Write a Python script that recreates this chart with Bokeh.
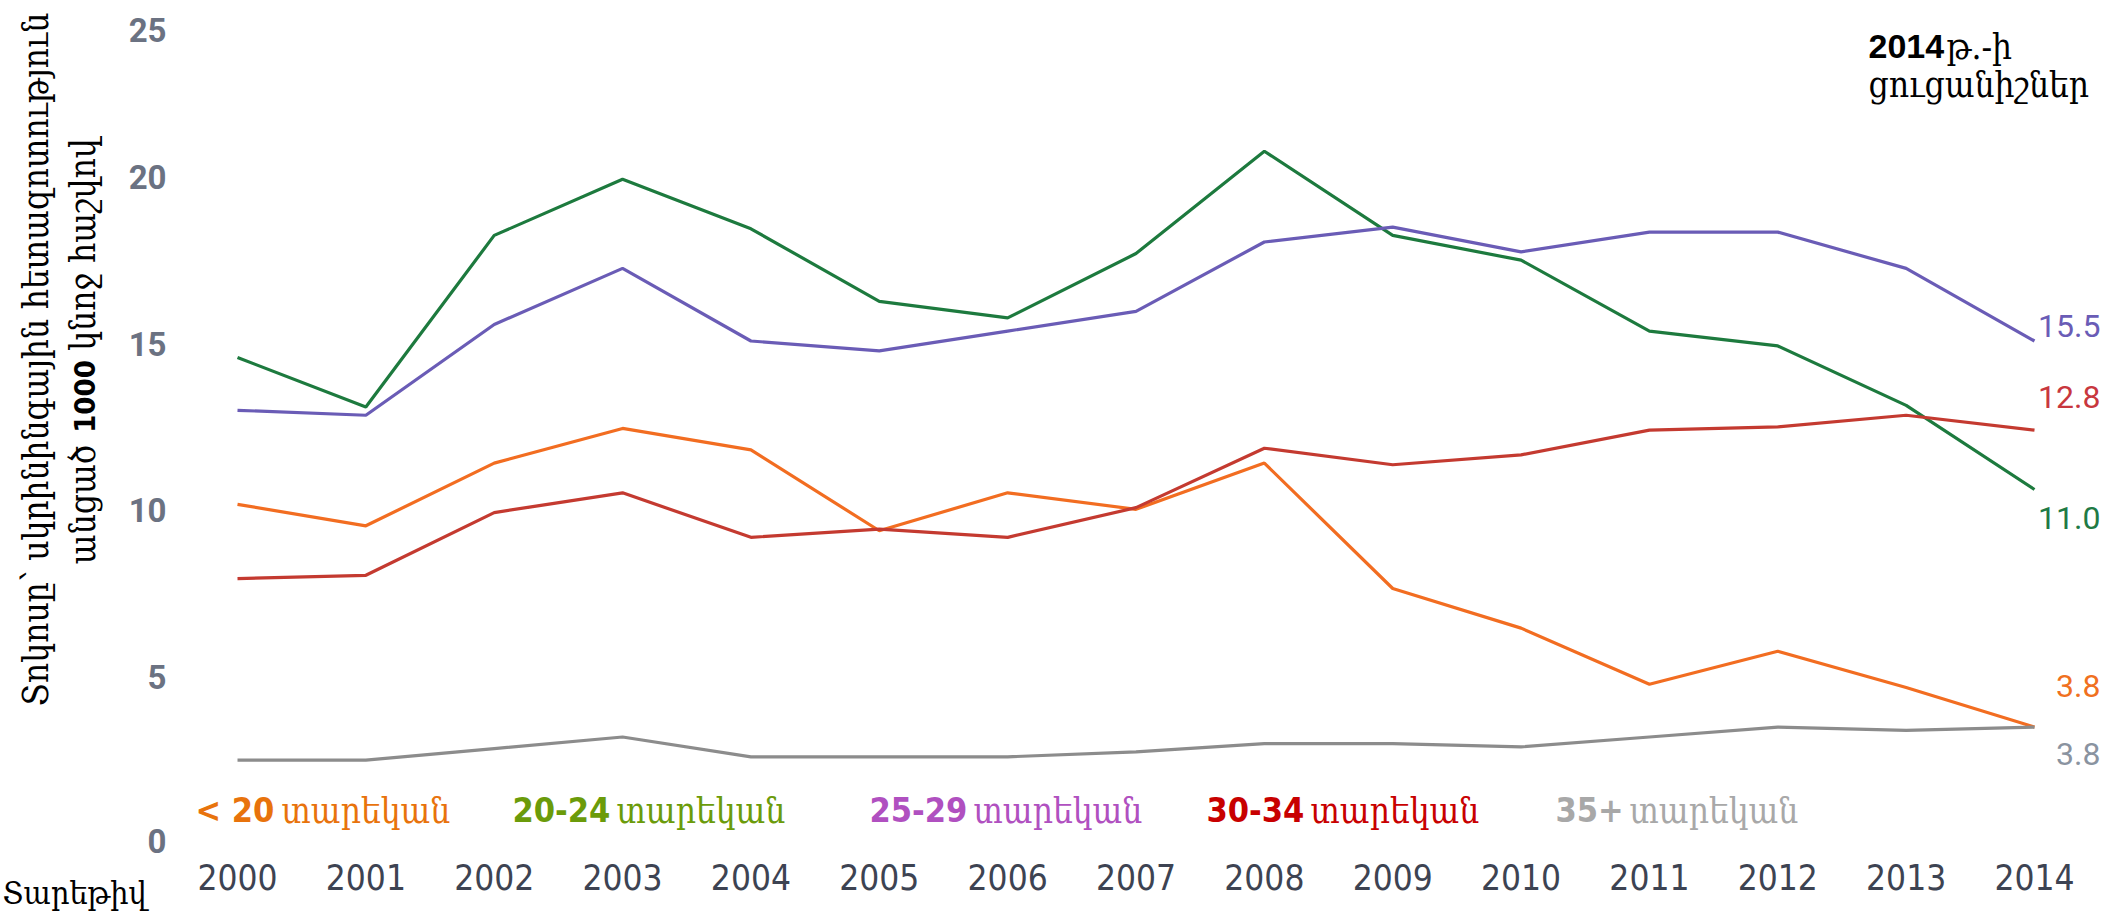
import math
from bokeh.plotting import figure
from bokeh.models import Range1d, Label, ColumnDataSource
from bokeh.embed import file_html
from bokeh.resources import INLINE
from bokeh.core.properties import value

# ---- data: screening rate per 1000 women, by age group ----
years = list(range(2000, 2015))
under_20 = [10.55, 9.9, 11.8, 12.85, 12.2, 9.75, 10.9, 10.4, 11.8, 8.0, 6.8, 5.1, 6.1, 5.0, 3.8]
age_20_24 = [15.0, 13.5, 18.7, 20.4, 18.9, 16.7, 16.2, 18.15, 21.25, 18.7, 17.95, 15.8, 15.35, 13.55, 11.0]
age_25_29 = [13.4, 13.25, 16.0, 17.7, 15.5, 15.2, 15.8, 16.4, 18.5, 18.95, 18.2, 18.8, 18.8, 17.7, 15.5]
age_30_34 = [8.3, 8.4, 10.3, 10.9, 9.55, 9.8, 9.55, 10.45, 12.25, 11.75, 12.05, 12.8, 12.9, 13.25, 12.8]
age_35_plus = [2.8, 2.8, 3.15, 3.5, 2.9, 2.9, 2.9, 3.05, 3.3, 3.3, 3.2, 3.5, 3.8, 3.7, 3.8]

group_numbers = ["< 20", "20-24", "25-29", "30-34", "35+"]
group_word = "տարեկան"
y_ticks = [0, 5, 10, 15, 20, 25]
x_tick_labels = [str(y) for y in years]
y_tick_labels = [str(t) for t in y_ticks]

series = [under_20, age_20_24, age_25_29, age_30_34, age_35_plus]
line_colors = ["#f26d21", "#1d7a3e", "#6a5cb6", "#c43a30", "#8c8c8c"]
legend_colors = ["#e8730c", "#6b9b0a", "#b050c0", "#c80000", "#a8a8a8"]
end_label_colors = ["#f07020", "#1f7a45", "#6a5cb6", "#c8373e", "#8a93a0"]
# vertical nudge (px, down positive) of each end-of-line value label
end_label_dy = [-41, 28, -15, -33, 27]
# y tick labels sit a little above their value; the top one is kept inside the canvas
y_tick_dy = [-12, -11, -13, -14, -16, 2]

# ---- geometry: the plotting frame fills the whole canvas ----
W, H = 2112, 913
PX_2000, PX_2014 = 237, 2034      # horizontal pixel of first / last year
PX_ZERO = 852                     # vertical pixel of value 0
PX_PER_YEAR = (PX_2014 - PX_2000) / 14.0
PX_PER_UNIT = 33.0
x_start = 2000 - PX_2000 / PX_PER_YEAR
x_end = 2014 + (W - PX_2014) / PX_PER_YEAR
y_start = -(H - PX_ZERO) / PX_PER_UNIT
y_end = PX_ZERO / PX_PER_UNIT


def X(px):
    return x_start + px / PX_PER_YEAR


def Y(py):
    return (PX_ZERO - py) / PX_PER_UNIT


p = figure(width=W, height=H, x_range=Range1d(x_start, x_end), y_range=Range1d(y_start, y_end),
           output_backend="svg", toolbar_location=None,
           x_axis_location=None, y_axis_location=None,
           min_border_left=0, min_border_right=0, min_border_top=0, min_border_bottom=0)
p.outline_line_color = None
p.background_fill_color = "white"
p.border_fill_color = "white"
p.grid.visible = False

# tick labels, placed on the data scale
p.text(x=years, y=[0] * len(years), text=x_tick_labels, y_offset=24,
       text_align="center", text_baseline="middle",
       text_font=value("DejaVu Sans Condensed"), text_font_size="35px", text_color="#3d4352")
ysrc = ColumnDataSource(dict(x=[X(166)] * len(y_ticks), y=y_ticks, t=y_tick_labels, dy=y_tick_dy))
p.text(x="x", y="y", text="t", y_offset="dy", source=ysrc,
       text_align="right", text_baseline="middle",
       text_font=value("Roboto"), text_font_style="bold", text_font_size="33px", text_color="#6b7282")

# lines
for vals, col in zip(series, line_colors):
    p.line(years, vals, line_color=col, line_width=3.2)

# end values
last = [s[-1] for s in series]
src = ColumnDataSource(dict(x=[years[-1]] * len(series), y=last,
                            t=[f"{v:.1f}" for v in last], c=end_label_colors, dy=end_label_dy))
p.text(x="x", y="y", text="t", source=src, text_color="c", x_offset=66, y_offset="dy",
       text_align="right", text_baseline="middle",
       text_font=value("Roboto"), text_font_size="32px")

ARM = "DejaVu Serif Condensed"
NARROW_BOLD = "Liberation Sans Narrow, DejaVu Sans Condensed"

# legend row
num_px = [195, 512, 869, 1206, 1555]
word_px = [281, 616, 973, 1310, 1629]
for name, col, nx, wx in zip(group_numbers, legend_colors, num_px, word_px):
    p.add_layout(Label(x=X(nx), y=Y(809), text=name, text_color=col, text_font="DejaVu Sans Condensed",
                       text_font_style="bold", text_font_size="34px", text_baseline="middle"))
    p.add_layout(Label(x=X(wx), y=Y(810), text=group_word, text_color=col, text_font=ARM,
                       text_font_size="35px", text_baseline="middle"))

# y-axis title (rotated, two lines)
rot = math.pi / 2
p.add_layout(Label(x=X(35), y=Y(359), text="Տոկոսը՝ սկրինինգային հետազոտություն", angle=rot,
                   text_font=ARM, text_font_size="35px", text_color="black",
                   text_align="center", text_baseline="middle"))
p.add_layout(Label(x=X(82), y=Y(504), text="անցած", angle=rot,
                   text_font=ARM, text_font_size="35px", text_color="black",
                   text_align="center", text_baseline="middle"))
p.add_layout(Label(x=X(84), y=Y(396), text="1000", angle=rot,
                   text_font=NARROW_BOLD, text_font_style="bold", text_font_size="29px",
                   text_color="black", text_align="center", text_baseline="middle"))
p.add_layout(Label(x=X(82), y=Y(244), text="կնոջ հաշվով", angle=rot,
                   text_font=ARM, text_font_size="35px", text_color="black",
                   text_align="center", text_baseline="middle"))

# x-axis title, bottom-left
p.add_layout(Label(x=X(2), y=Y(892), text="Տարեթիվ", text_font=ARM, text_font_size="32px",
                   text_color="black", text_align="left", text_baseline="middle"))

# note at top right
p.add_layout(Label(x=X(1868), y=Y(46), text="2014", text_font="Liberation Sans", text_font_style="bold",
                   text_font_size="34px", text_color="black", text_baseline="middle"))
p.add_layout(Label(x=X(1946), y=Y(46), text="թ.-ի", text_font=ARM, text_font_size="35px",
                   text_color="black", text_baseline="middle"))
p.add_layout(Label(x=X(1868), y=Y(84), text="ցուցանիշներ", text_font=ARM, text_font_size="35px",
                   text_color="black", text_baseline="middle"))

open("out.html", "w").write(file_html(p, INLINE))
